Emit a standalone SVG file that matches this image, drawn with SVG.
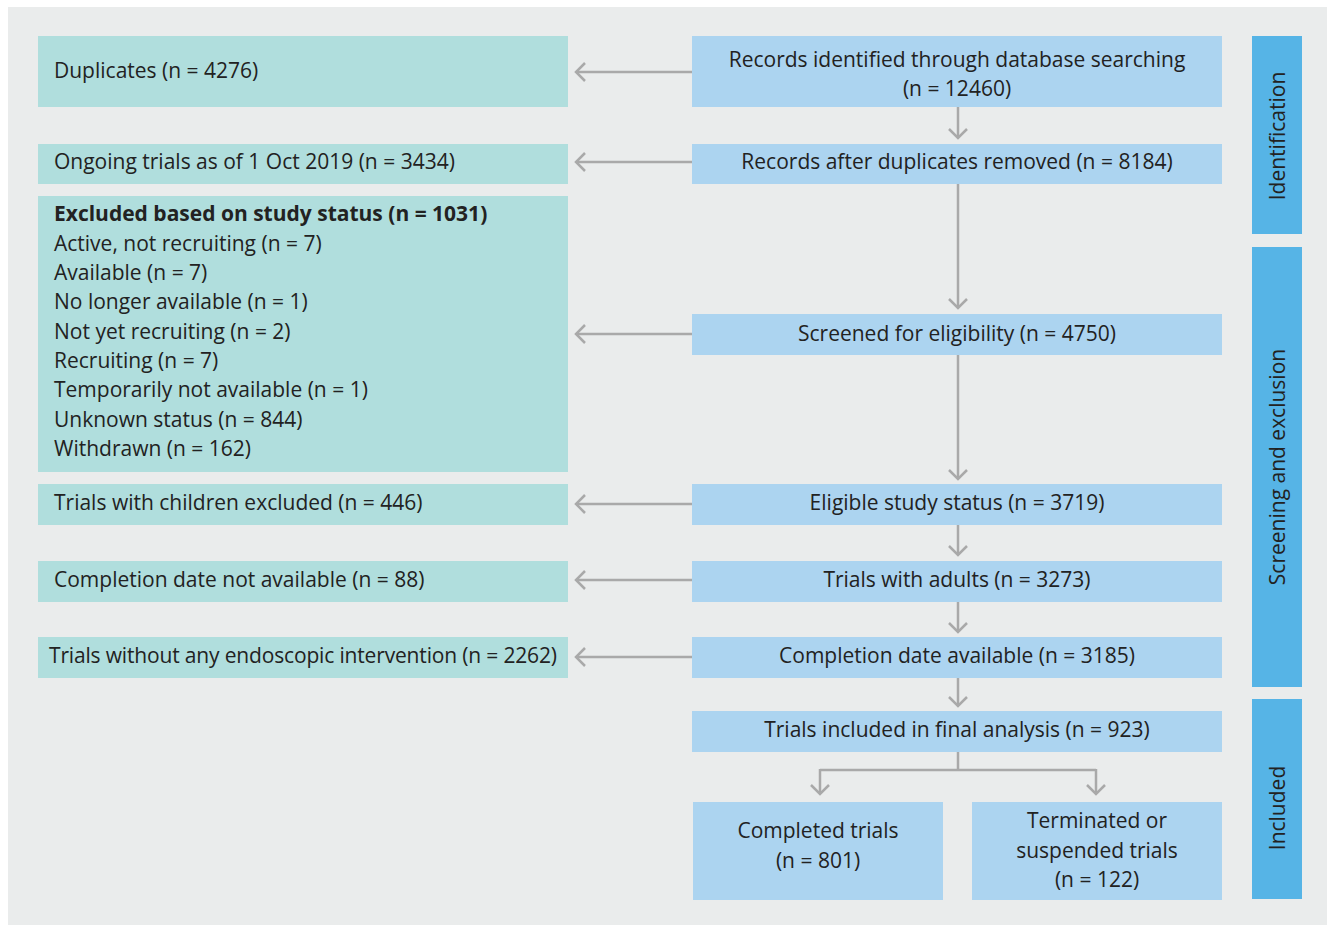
<svg xmlns="http://www.w3.org/2000/svg" width="1327" height="928" viewBox="0 0 1327 928">
<style>
.bg{fill:#eaecec}
.l{fill:#b0dedd}
.r{fill:#acd4f0}
.s{fill:#56b4e6}
text{font-family:"Open Sans","Noto Sans",sans-serif;font-size:21px;fill:#222}
.c{text-anchor:middle}
.b{font-weight:bold}
.cn path{stroke:#a9a9a9;stroke-width:2.5;fill:none}
</style>
<defs>
<marker id="a" markerWidth="20" markerHeight="20" refX="10" refY="10" orient="auto" markerUnits="userSpaceOnUse">
<path d="M1 1 L10 10 L1 19" fill="none" stroke="#a9a9a9" stroke-width="2.5"/>
</marker>
</defs>
<rect x="0" y="0" width="1327" height="928" fill="#fff"/>
<rect class="bg" x="8" y="7" width="1319" height="918"/>

<g id="duplicates"><rect class="l" x="38" y="36" width="530" height="71"/><text x="54" y="78">Duplicates (n = 4276)</text></g>
<g id="ongoing"><rect class="l" x="38" y="144" width="530" height="40"/><text x="54" y="169">Ongoing trials as of 1 Oct 2019 (n = 3434)</text></g>
<g id="excluded"><rect class="l" x="38" y="196" width="530" height="276"/>
<text x="54" y="221" class="b">Excluded based on study status (n = 1031)</text>
<text x="54" y="251">Active, not recruiting (n = 7)</text>
<text x="54" y="280">Available (n = 7)</text>
<text x="54" y="309">No longer available (n = 1)</text>
<text x="54" y="339">Not yet recruiting (n = 2)</text>
<text x="54" y="368">Recruiting (n = 7)</text>
<text x="54" y="397">Temporarily not available (n = 1)</text>
<text x="54" y="427">Unknown status (n = 844)</text>
<text x="54" y="456">Withdrawn (n = 162)</text>
</g>
<g id="children"><rect class="l" x="38" y="484" width="530" height="41"/><text x="54" y="510">Trials with children excluded (n = 446)</text></g>
<g id="notavail"><rect class="l" x="38" y="561" width="530" height="41"/><text x="54" y="587">Completion date not available (n = 88)</text></g>
<g id="noendo"><rect class="l" x="38" y="637" width="530" height="41"/><text x="49" y="663" textLength="508" lengthAdjust="spacing">Trials without any endoscopic intervention (n = 2262)</text></g>

<g id="identified"><rect class="r" x="692" y="36" width="530" height="71"/><text class="c" x="957" y="67">Records identified through database searching</text><text class="c" x="957" y="96">(n = 12460)</text></g>
<g id="afterdup"><rect class="r" x="692" y="144" width="530" height="40"/><text class="c" x="957" y="169">Records after duplicates removed (n = 8184)</text></g>
<g id="screened"><rect class="r" x="692" y="314" width="530" height="41"/><text class="c" x="957" y="341">Screened for eligibility (n = 4750)</text></g>
<g id="eligible"><rect class="r" x="692" y="484" width="530" height="41"/><text class="c" x="957" y="510">Eligible study status (n = 3719)</text></g>
<g id="adults"><rect class="r" x="692" y="561" width="530" height="41"/><text class="c" x="957" y="587">Trials with adults (n = 3273)</text></g>
<g id="compavail"><rect class="r" x="692" y="637" width="530" height="41"/><text class="c" x="957" y="663">Completion date available (n = 3185)</text></g>
<g id="final"><rect class="r" x="692" y="711" width="530" height="41"/><text class="c" x="957" y="737">Trials included in final analysis (n = 923)</text></g>
<g id="completed"><rect class="r" x="693" y="802" width="250" height="98"/><text class="c" x="818" y="838">Completed trials</text><text class="c" x="818" y="868">(n = 801)</text></g>
<g id="terminated"><rect class="r" x="972" y="802" width="250" height="98"/><text class="c" x="1097" y="828">Terminated or</text><text class="c" x="1097" y="858">suspended trials</text><text class="c" x="1097" y="887">(n = 122)</text></g>

<g id="identification"><rect class="s" x="1252" y="36" width="50" height="198"/><text class="c" transform="translate(1285,136) rotate(-90)">Identification</text></g>
<g id="screening"><rect class="s" x="1252" y="247" width="50" height="440"/><text class="c" transform="translate(1285,467) rotate(-90)">Screening and exclusion</text></g>
<g id="included"><rect class="s" x="1252" y="699" width="50" height="200"/><text class="c" transform="translate(1285,808) rotate(-90)">Included</text></g>

<g id="connectors" class="cn">
<path d="M692 72 H576" marker-end="url(#a)"/>
<path d="M692 162 H576" marker-end="url(#a)"/>
<path d="M692 334 H576" marker-end="url(#a)"/>
<path d="M692 504 H576" marker-end="url(#a)"/>
<path d="M692 580 H576" marker-end="url(#a)"/>
<path d="M692 657 H576" marker-end="url(#a)"/>
<path d="M958 107 V138" marker-end="url(#a)"/>
<path d="M958 184 V308" marker-end="url(#a)"/>
<path d="M958 355 V479" marker-end="url(#a)"/>
<path d="M958 525 V555" marker-end="url(#a)"/>
<path d="M958 602 V632" marker-end="url(#a)"/>
<path d="M958 678 V706" marker-end="url(#a)"/>
<path d="M958 752 V770"/>
<path d="M820 770 H1096"/>
<path d="M820 769 V794" marker-end="url(#a)"/>
<path d="M1096 769 V794" marker-end="url(#a)"/>
</g>
</svg>
